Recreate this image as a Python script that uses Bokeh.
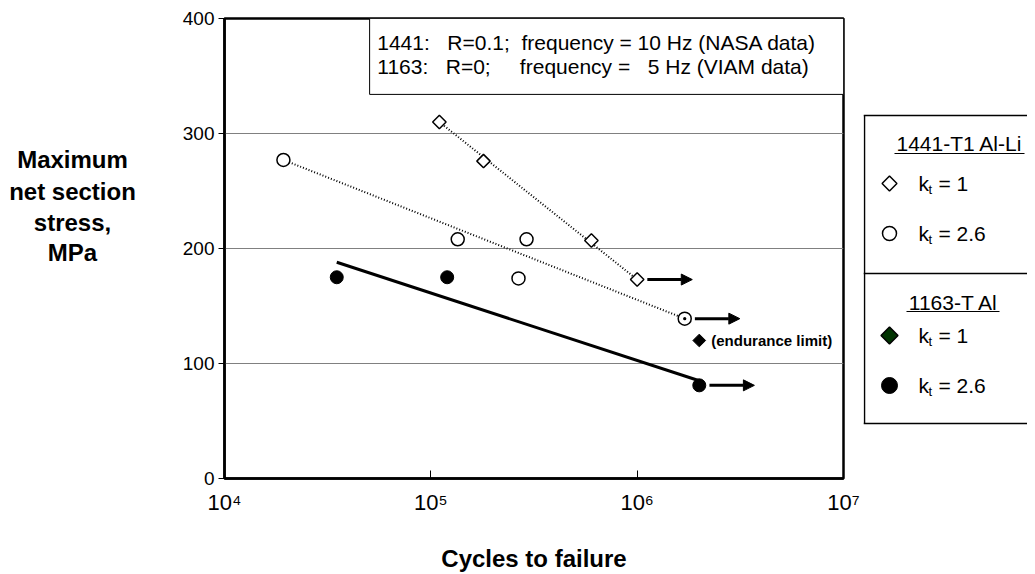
import math
from bokeh.plotting import figure
from bokeh.models import (ColumnDataSource, FixedTicker, Label, BoxAnnotation,
                          Arrow, NormalHead, Range1d)
from bokeh.layouts import row
from bokeh.embed import file_html
from bokeh.resources import INLINE

# ---------------- data ----------------
al1441_kt1_cycles = [1.1e5, 1.8e5, 6.0e5, 1.0e6]
al1441_kt1_stress = [310, 276, 207, 173]

al1441_kt26_cycles = [1.93e4, 1.35e5, 2.66e5, 2.91e5, 1.7e6]
al1441_kt26_stress = [277, 208, 174, 208, 139]
al1441_kt26_marker = ["circle", "circle", "circle", "circle", "circle_dot"]

al1163_kt26_cycles = [3.5e4, 1.2e5, 2.0e6]
al1163_kt26_stress = [175, 175, 81]

al1163_kt1_cycles = [2.0e6]          # endurance limit
al1163_kt1_stress = [120]

fit1441_kt1_cycles = [1.1e5, 1.0e6]
fit1441_kt1_stress = [310, 173]
fit1441_kt26_cycles = [1.93e4, 1.7e6]
fit1441_kt26_stress = [277, 139]
fit1163_cycles = [3.5e4, 2.0e6]
fit1163_stress = [188, 85]

runout_cycles = [1.0e6, 1.7e6, 2.0e6]
runout_stress = [173, 139, 81]

x_ticks = [10000, 100000, 1000000, 10000000]
x_tick_labels = ["10\u2074", "10\u2075", "10\u2076", "10\u2077"]
y_ticks = [0, 100, 200, 300, 400]

y_title_lines = ["Maximum", "net section", "stress,", "MPa"]
x_title = "Cycles to failure"

FONT = "Liberation Sans"
H = 574
TOP, BOT = 18, 96          # borders shared by all panels (frames align in a row)
F_TOP, F_BOT = TOP, H - BOT


def side_panel(w):
    f = figure(width=w, height=H, x_range=Range1d(0, w),
               y_range=Range1d(F_BOT, F_TOP), output_backend="svg",
               toolbar_location=None, x_axis_location=None,
               y_axis_location=None, min_border_left=0, min_border_right=0,
               min_border_top=TOP, min_border_bottom=BOT)
    f.grid.visible = False
    f.outline_line_color = None
    f.background_fill_color = "white"
    f.border_fill_color = "white"
    return f


# ---------------- y-title panel ----------------
yt = side_panel(150)
for txt, yy in zip(y_title_lines, [159, 191, 222, 252]):
    yt.add_layout(Label(x=72, y=yy, text=txt, text_font=FONT,
                        text_font_style="bold", text_font_size="24px",
                        text_align="center", text_baseline="middle",
                        text_color="black"))

# ---------------- main figure ----------------
p = figure(width=713, height=H, x_axis_type="log",
           x_range=Range1d(1e4, 1e7), y_range=Range1d(0, 400),
           output_backend="svg", toolbar_location=None,
           min_border_left=74, min_border_right=20,
           min_border_top=TOP, min_border_bottom=BOT)
p.background_fill_color = "white"
p.border_fill_color = "white"
p.outline_line_color = "black"
p.outline_line_width = 2.5
p.outline_line_alpha = 1.0

p.xgrid.visible = False
p.ygrid.grid_line_color = "#808080"
p.ygrid.grid_line_width = 1.2
p.ygrid.ticker = FixedTicker(ticks=y_ticks)

xa = p.xaxis[0]
xa.ticker = FixedTicker(ticks=x_ticks, minor_ticks=[])
xa.major_label_overrides = dict(zip(x_ticks, x_tick_labels))
xa.major_tick_in = 8
xa.major_tick_out = 0
xa.minor_tick_in = 0
xa.minor_tick_out = 0
xa.axis_line_width = 2.5
xa.major_tick_line_width = 1
xa.major_label_text_font = FONT
xa.major_label_text_font_size = "22px"
xa.major_label_text_color = "black"
xa.major_label_standoff = 11
xa.axis_label = x_title
xa.axis_label_text_font = FONT
xa.axis_label_text_font_style = "bold"
xa.axis_label_text_font_size = "24px"
xa.axis_label_text_color = "black"
xa.axis_label_standoff = 27

ya = p.yaxis[0]
ya.ticker = FixedTicker(ticks=y_ticks, minor_ticks=[])
ya.major_tick_in = 0
ya.major_tick_out = 6
ya.minor_tick_in = 0
ya.minor_tick_out = 0
ya.axis_line_width = 2.5
ya.major_tick_line_width = 1
ya.major_label_text_font = FONT
ya.major_label_text_font_size = "19px"
ya.major_label_text_color = "black"
ya.major_label_standoff = 4

# fit lines
p.line(fit1441_kt1_cycles, fit1441_kt1_stress, line_color="black",
       line_width=2, line_dash="1 2")
p.line(fit1441_kt26_cycles, fit1441_kt26_stress, line_color="black",
       line_width=2, line_dash="1 2")
p.line(fit1163_cycles, fit1163_stress, line_color="black", line_width=3)

# markers
p.scatter(al1441_kt1_cycles, al1441_kt1_stress, marker="square",
          angle=math.pi / 4, size=9.5, fill_color="white",
          line_color="black", line_width=1.5)
src26 = ColumnDataSource(dict(x=al1441_kt26_cycles, y=al1441_kt26_stress,
                              m=al1441_kt26_marker))
p.scatter("x", "y", marker="m", source=src26, size=13, fill_color="white",
          line_color="black", line_width=1.5)
p.scatter(al1163_kt26_cycles, al1163_kt26_stress, marker="circle", size=13,
          fill_color="black", line_color="black")
p.scatter(al1163_kt1_cycles, al1163_kt1_stress, marker="square",
          angle=math.pi / 4, size=9, fill_color="black", line_color="black")
p.add_layout(Label(x=al1163_kt1_cycles[0], y=al1163_kt1_stress[0],
                   x_offset=12, text="(endurance limit)", text_font=FONT,
                   text_font_style="bold", text_font_size="15px",
                   text_baseline="middle", text_color="black"))

# run-out arrows
arr_src = ColumnDataSource(dict(
    x0=[c * 1.12 for c in runout_cycles], x1=[c * 1.85 for c in runout_cycles],
    y=runout_stress))
p.add_layout(Arrow(source=arr_src, x_start="x0", y_start="y", x_end="x1",
                   y_end="y", line_width=3, line_color="black",
                   end=NormalHead(size=11, fill_color="black",
                                  line_color="black")))

# info box
p.add_layout(BoxAnnotation(left=5.05e4, right=1e7, bottom=334, top=400,
                           fill_color="white", fill_alpha=1.0,
                           line_color="black", line_width=1, line_alpha=1.0))
nb = "\u00a0"
p.add_layout(Label(x=5.5e4, y=379,
                   text="1441:" + nb * 3 + "R=0.1;" + nb * 2 +
                        "frequency = 10 Hz (NASA data)",
                   text_font=FONT, text_font_size="21px",
                   text_baseline="middle", text_color="black"))
p.add_layout(Label(x=5.5e4, y=358,
                   text="1163:" + nb * 3 + "R=0;" + nb * 5 +
                        "frequency =" + nb * 3 + "5 Hz (VIAM data)",
                   text_font=FONT, text_font_size="21px",
                   text_baseline="middle", text_color="black"))

# ---------------- legend panel ----------------
lf = side_panel(164)

box_top, box_mid, box_bot = 115, 273, 423
lf.segment(x0=[1, 0, 0, 0], y0=[box_top, box_top, box_mid, box_bot],
           x1=[1, 164, 164, 164], y1=[box_bot, box_top, box_mid, box_bot],
           line_color="black", line_width=1.5)

legend_titles = ["1441-T1 Al-Li", "1163-T Al"]
title_x = [96, 90]
title_y = [143, 302]
for t, tx, ty in zip(legend_titles, title_x, title_y):
    lf.add_layout(Label(x=tx, y=ty, text=t, text_font=FONT,
                        text_font_size="21px", text_align="center",
                        text_baseline="middle", text_color="black"))
lf.segment(x0=[31, 43], y0=[153, 311], x1=[161, 136], y1=[153, 311],
           line_color="black", line_width=1.2)

kt_labels = ["= 1", "= 2.6", "= 1", "= 2.6"]
row_y = [183, 233, 335, 385]
for lab, ry in zip(kt_labels, row_y):
    lf.add_layout(Label(x=55, y=ry, text="k", text_font=FONT,
                        text_font_size="21px", text_baseline="middle",
                        text_color="black"))
    lf.add_layout(Label(x=65, y=ry + 6, text="t", text_font=FONT,
                        text_font_size="13px", text_baseline="middle",
                        text_color="black"))
    lf.add_layout(Label(x=75, y=ry, text=lab, text_font=FONT,
                        text_font_size="21px", text_baseline="middle",
                        text_color="black"))

lf.scatter([26], [row_y[0]], marker="square", angle=math.pi / 4, size=10.5,
           fill_color="white", line_color="black", line_width=1.5)
lf.scatter([26], [row_y[1]], marker="circle", size=14,
           fill_color="white", line_color="black", line_width=1.5)
lf.scatter([26], [row_y[2]], marker="square", angle=math.pi / 4, size=12,
           fill_color="#003300", line_color="black", line_width=1.5)
lf.scatter([26], [row_y[3]], marker="circle", size=16,
           fill_color="black", line_color="black")

layout = row(yt, p, lf)
open("out.html", "w").write(file_html(layout, INLINE))
